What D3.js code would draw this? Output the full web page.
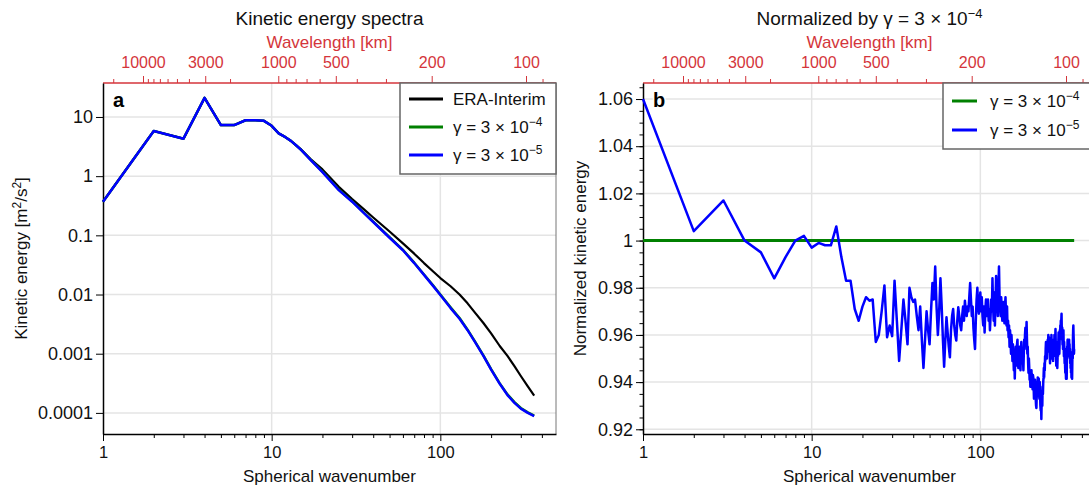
<!DOCTYPE html>
<html>
<head>
<meta charset="utf-8">
<script src="https://cdn.jsdelivr.net/npm/d3@7/dist/d3.min.js"></script>
<style>
  body { margin: 0; background: #fff; }
  svg { font-family: "Liberation Sans", Arial, Helvetica, sans-serif; }
</style>
</head>
<body>
<svg id="fig" width="1089" height="488"></svg>
<script>
// ---- data ----
// panel a: wavenumbers and kinetic energy [m2/s2]
var waveA = [1, 2, 3, 4, 5, 6, 7, 8, 9, 10, 11, 12, 13, 14, 15, 17, 20, 25, 30, 35, 40, 50, 60, 70, 80, 90,
  100, 115, 130, 145, 160, 180, 200, 225, 250, 275, 300, 330, 360];
var eraA = [0.37, 5.8, 4.3, 21, 7.3, 7.3, 8.8, 8.8, 8.6, 7.1, 5.3, 4.6, 3.95, 3.3, 2.8, 1.95, 1.3, 0.66, 0.41, 0.28,
  0.2, 0.116, 0.073, 0.049, 0.034, 0.025, 0.019, 0.0138, 0.0100, 0.0071, 0.0050, 0.0033, 0.0022, 0.00135,
  0.00092, 0.000615, 0.00042, 0.00028, 0.000195];
var gamma4A = [0.37, 5.8, 4.3, 21, 7.3, 7.3, 8.8, 8.8, 8.6, 7.1, 5.3, 4.6, 3.95, 3.3, 2.75, 1.9, 1.19, 0.59, 0.375,
  0.245, 0.17, 0.093, 0.057, 0.0345, 0.0218, 0.0146, 0.0100, 0.0061, 0.0040, 0.00255, 0.00163, 0.00094,
  0.00055, 0.000315, 0.000205, 0.000152, 0.000121, 0.000102, 0.00009];
var gamma5A = [0.37, 5.8, 4.3, 21, 7.3, 7.3, 8.8, 8.8, 8.6, 7.1, 5.3, 4.6, 3.95, 3.3, 2.75, 1.88, 1.17, 0.58, 0.37,
  0.242, 0.168, 0.091, 0.056, 0.034, 0.0215, 0.0143, 0.0098, 0.0059, 0.0039, 0.0025, 0.0016, 0.00092,
  0.00054, 0.00031, 0.0002, 0.000148, 0.000118, 0.0001, 0.000088];

// panel b: ratio gamma=3e-5 / gamma=3e-4, wavenumbers 1..360
var ratio5B = [
  1.060, 1.004, 1.017, 1.000, 0.995, 0.984, 0.993, 1.000, 1.002, 0.997,
  0.999, 0.998, 0.998, 1.006, 0.993, 0.983, 0.983, 0.971, 0.966, 0.972,
  0.976, 0.9745, 0.975, 0.957, 0.960, 0.970, 0.981, 0.959, 0.964, 0.9595,
  0.983, 0.966, 0.949, 0.962, 0.975, 0.966, 0.956, 0.980, 0.976, 0.974,
  0.975, 0.968, 0.962, 0.972, 0.958, 0.946, 0.958, 0.970, 0.962, 0.956,
  0.970, 0.982, 0.975, 0.989, 0.972, 0.960, 0.970, 0.984, 0.972, 0.958,
  0.9465, 0.958, 0.9675, 0.961, 0.955, 0.9505, 0.962, 0.968, 0.971, 0.964,
  0.960, 0.9576, 0.966, 0.9717, 0.968, 0.964, 0.962, 0.968, 0.972, 0.966,
  0.9745, 0.970, 0.968, 0.972, 0.970, 0.976, 0.982, 0.975, 0.968, 0.972,
  0.963, 0.958, 0.954, 0.966, 0.975, 0.980, 0.972, 0.969, 0.974, 0.978,
  0.970, 0.976, 0.968, 0.964, 0.972, 0.961, 0.970, 0.975, 0.968, 0.972,
  0.975, 0.966, 0.971, 0.962, 0.968, 0.975, 0.970, 0.984, 0.972, 0.966,
  0.978, 0.964, 0.974, 0.985, 0.970, 0.975, 0.968, 0.980, 0.989, 0.976,
  0.972, 0.968, 0.976, 0.970, 0.966, 0.969, 0.974, 0.970, 0.965, 0.972,
  0.976, 0.968, 0.964, 0.972, 0.962, 0.966, 0.959, 0.964, 0.955, 0.962,
  0.958, 0.952, 0.960, 0.955, 0.949, 0.956, 0.951, 0.945, 0.952, 0.9415,
  0.950, 0.955, 0.947, 0.952, 0.956, 0.958, 0.950, 0.946, 0.953, 0.949,
  0.955, 0.950, 0.945, 0.952, 0.957, 0.951, 0.948, 0.954, 0.950, 0.945,
  0.952, 0.958, 0.954, 0.960, 0.963, 0.957, 0.960, 0.9655, 0.958, 0.952,
  0.955, 0.948, 0.944, 0.950, 0.946, 0.941, 0.945, 0.938, 0.943, 0.940,
  0.945, 0.939, 0.942, 0.937, 0.943, 0.942, 0.938, 0.933, 0.940, 0.936,
  0.941, 0.937, 0.933, 0.930, 0.929, 0.935, 0.940, 0.936, 0.942, 0.938,
  0.934, 0.9415, 0.938, 0.933, 0.940, 0.936, 0.930, 0.928, 0.934, 0.9244,
  0.932, 0.936, 0.930, 0.938, 0.935, 0.940, 0.942, 0.946, 0.942, 0.948,
  0.945, 0.951, 0.949, 0.954, 0.957, 0.952, 0.955, 0.950, 0.956, 0.953,
  0.958, 0.954, 0.960, 0.955, 0.959, 0.953, 0.957, 0.952, 0.948, 0.955,
  0.951, 0.957, 0.954, 0.960, 0.955, 0.950, 0.956, 0.958, 0.953, 0.949,
  0.955, 0.951, 0.958, 0.954, 0.960, 0.955, 0.952, 0.958, 0.9625, 0.956,
  0.951, 0.947, 0.953, 0.957, 0.952, 0.946, 0.950, 0.955, 0.951, 0.957,
  0.961, 0.955, 0.958, 0.952, 0.956, 0.962, 0.958, 0.964, 0.960, 0.966,
  0.963, 0.966, 0.969, 0.962, 0.958, 0.963, 0.956, 0.960, 0.954, 0.959,
  0.962, 0.955, 0.951, 0.957, 0.953, 0.948, 0.954, 0.947, 0.944, 0.949,
  0.945, 0.9414, 0.946, 0.952, 0.9414, 0.950, 0.955, 0.951, 0.958, 0.954,
  0.958, 0.953, 0.956, 0.951, 0.955, 0.958, 0.952, 0.956, 0.950, 0.954,
  0.948, 0.952, 0.946, 0.950, 0.944, 0.949, 0.942, 0.947, 0.943, 0.9414,
  0.948, 0.953, 0.950, 0.958, 0.962, 0.964, 0.960, 0.957, 0.952, 0.954
];
var waveB = d3.range(1, ratio5B.length + 1);
var waveB4 = [1, 360];
var ratio4B = [1, 1];

// ticks
var waveTicks = [1, 10, 100];
var waveMinor = [2, 3, 4, 5, 6, 7, 8, 9, 20, 30, 40, 50, 60, 70, 80, 90, 200, 300, 400];
var kinTicks = [10, 1, 0.1, 0.01, 0.001, 0.0001];
var normTicks = [0.92, 0.94, 0.96, 0.98, 1, 1.02, 1.04, 1.06];
var normMinor = [0.92, 0.925, 0.93, 0.935, 0.94, 0.945, 0.95, 0.955, 0.96, 0.965, 0.97, 0.975, 0.98, 0.985,
  0.99, 0.995, 1, 1.005, 1.01, 1.015, 1.02, 1.025, 1.03, 1.035, 1.04, 1.045, 1.05, 1.055, 1.06, 1.065];
var lambdaTicks = [10000, 3000, 1000, 500, 200, 100];
var lambdaMinor = [20000, 9000, 8000, 7000, 6000, 5000, 4000, 2000, 900, 800, 700, 600, 400, 300, 90];

var red = "#d4353b";
var svg = d3.select("#fig");

var margin = { top: 83, left: 103 },
  width = 453,
  height = 351;

var x = d3.scaleLog().domain([1, 485]).range([0, width]);
// the top wavelength axis of the original is spaced by (log10 wavelength)^-0.75
var xTop = d3.scalePow().exponent(-0.75).domain([4, 2]).range([40, 423]);

function supText(sel, base, sup, supSize) {
  sel.append("tspan").text(base);
  sel.append("tspan").attr("dy", -7).attr("font-size", supSize).text(sup);
}

function drawPanel(cfg) {
  var g = svg.append("g")
    .attr("transform", "translate(" + (margin.left + cfg.dx) + "," + margin.top + ")");
  var y = cfg.y;

  // grid
  g.append("g").selectAll("line").data(waveTicks.slice(1)).enter().append("line")
    .attr("x1", function (d) { return x(d); }).attr("x2", function (d) { return x(d); })
    .attr("y1", 0).attr("y2", height)
    .attr("stroke", "#e4e4e4").attr("stroke-width", 1.5);
  g.append("g").selectAll("line").data(cfg.yTicks).enter().append("line")
    .attr("x1", 0).attr("x2", width)
    .attr("y1", function (d) { return y(d); }).attr("y2", function (d) { return y(d); })
    .attr("stroke", "#e4e4e4").attr("stroke-width", 1.5);

  // right frame
  g.append("line").attr("x1", width).attr("x2", width).attr("y1", 0).attr("y2", height)
    .attr("stroke", "#777").attr("stroke-width", 1);

  // top wavelength axis
  var topMinor = g.append("g")
    .call(d3.axisTop(xTop).tickValues(lambdaMinor.map(Math.log10).filter(function (d) {
      return xTop(d) >= 0 && xTop(d) <= width;
    })).tickSize(4).tickFormat(""));
  topMinor.select(".domain").remove();
  topMinor.selectAll("line").attr("stroke", red);
  var top = g.append("g")
    .call(d3.axisTop(xTop).tickValues(lambdaTicks.map(Math.log10)).tickSize(7).tickSizeOuter(0).tickPadding(8)
      .tickFormat(function (d) { return Math.round(Math.pow(10, d)); }))
    .attr("font-family", null).attr("font-size", 16);
  top.select(".domain").attr("stroke", red).attr("stroke-width", 1.5).attr("d", "M0,0H" + width);
  top.selectAll("line").attr("stroke", red);
  top.selectAll("text").attr("fill", red);

  // bottom axis
  var botMinor = g.append("g").attr("transform", "translate(0," + height + ")")
    .call(d3.axisBottom(x).tickValues(waveMinor).tickSize(4).tickFormat(""));
  botMinor.select(".domain").remove();
  var bot = g.append("g").attr("transform", "translate(0," + height + ")")
    .call(d3.axisBottom(x).tickValues(waveTicks).tickSize(7).tickSizeOuter(0).tickPadding(5)
      .tickFormat(d3.format("d")))
    .attr("font-family", null).attr("font-size", 16.5);
  bot.select(".domain").attr("stroke-width", 1.5);
  bot.selectAll("text").attr("fill", "#111");

  // left axis
  if (cfg.yMinor) {
    var leftMinor = g.append("g")
      .call(d3.axisLeft(y).tickValues(cfg.yMinor).tickSize(3.5).tickFormat(""));
    leftMinor.select(".domain").remove();
  }
  var left = g.append("g")
    .call(d3.axisLeft(y).tickValues(cfg.yTicks).tickSize(7).tickSizeOuter(0).tickPadding(3)
      .tickFormat(cfg.yFormat))
    .attr("font-family", null).attr("font-size", 18);
  left.select(".domain").attr("stroke-width", 1.5);
  left.selectAll("text").attr("fill", "#111");

  // series
  cfg.series.forEach(function (s) {
    var line = d3.line()
      .x(function (d, i) { return x(s.x[i]); })
      .y(function (d) { return y(d); });
    g.append("path").datum(s.v)
      .attr("d", line)
      .attr("fill", "none")
      .attr("stroke", s.color)
      .attr("stroke-width", s.w)
      .attr("stroke-linejoin", "round");
  });

  // panel letter
  g.append("text").attr("x", 10).attr("y", 24)
    .attr("font-size", 20).attr("font-weight", "bold")
    .attr("stroke", "#fff").attr("stroke-width", 3).attr("paint-order", "stroke")
    .text(cfg.letter);

  // legend
  var lg = g.append("g").attr("transform", "translate(" + (width - cfg.legendW) + ",0)");
  lg.append("rect").attr("width", cfg.legendW).attr("height", cfg.legendH)
    .attr("fill", "#fff").attr("stroke", "#666").attr("stroke-width", 1.5);
  cfg.legend.forEach(function (e, i) {
    var yy = cfg.legendY0 + i * cfg.legendDy;
    lg.append("line").attr("x1", 9).attr("x2", 9 + cfg.legendLine)
      .attr("y1", yy).attr("y2", yy)
      .attr("stroke", e.color).attr("stroke-width", 3);
    var t = lg.append("text").attr("x", cfg.legendText).attr("y", yy + 6)
      .attr("font-size", 17).attr("fill", "#111");
    if (e.sup) supText(t, e.label, e.sup, 12);
    else t.text(e.label);
  });

  // titles
  var title = g.append("text").attr("x", width / 2).attr("y", 25 - margin.top)
    .attr("text-anchor", "middle").attr("font-size", 19).attr("fill", "#111");
  if (cfg.titleSup) supText(title, cfg.title, cfg.titleSup, 13);
  else title.text(cfg.title);

  g.append("text").attr("x", width / 2).attr("y", 48 - margin.top)
    .attr("text-anchor", "middle").attr("font-size", 17).attr("fill", red)
    .text("Wavelength [km]");

  g.append("text").attr("x", width / 2).attr("y", height + 48)
    .attr("text-anchor", "middle").attr("font-size", 17).attr("fill", "#111")
    .text("Spherical wavenumber");

  var yl = g.append("text").attr("transform", "rotate(-90)")
    .attr("x", -height / 2).attr("y", cfg.yLabelX)
    .attr("text-anchor", "middle").attr("font-size", 17).attr("fill", "#111");
  cfg.yLabel(yl);
}

var yA = d3.scaleLog().domain([4.4e-5, 37.5]).range([height, 0]);
var yB = d3.scaleLinear().domain([0.918, 1.0668]).range([height, 0]);

drawPanel({
  dx: 0,
  y: yA,
  yTicks: kinTicks,
  yFormat: function (d) { return d >= 1 ? d3.format("d")(d) : d3.format("." + Math.round(-Math.log10(d)) + "f")(d); },
  series: [
    { x: waveA, v: eraA, color: "#000", w: 2.2 },
    { x: waveA, v: gamma4A, color: "#008000", w: 2.5 },
    { x: waveA, v: gamma5A, color: "#0000ff", w: 2.5 }
  ],
  letter: "a",
  legendW: 156, legendH: 91, legendY0: 16, legendDy: 28, legendLine: 34, legendText: 53,
  legend: [
    { label: "ERA-Interim", color: "#000" },
    { label: "\u03b3 = 3 \u00d7 10", sup: "\u22124", color: "#008000" },
    { label: "\u03b3 = 3 \u00d7 10", sup: "\u22125", color: "#0000ff" }
  ],
  title: "Kinetic energy spectra",
  yLabelX: -76,
  yLabel: function (t) {
    t.append("tspan").text("Kinetic energy [m");
    t.append("tspan").attr("dy", -6).attr("font-size", 12).text("2");
    t.append("tspan").attr("dy", 6).text("/s");
    t.append("tspan").attr("dy", -6).attr("font-size", 12).text("2");
    t.append("tspan").attr("dy", 6).text("]");
  }
});

drawPanel({
  dx: 540,
  y: yB,
  yTicks: normTicks,
  yMinor: normMinor,
  yFormat: d3.format("~g"),
  series: [
    { x: waveB4, v: ratio4B, color: "#008000", w: 3 },
    { x: waveB, v: ratio5B, color: "#0000ff", w: 2.5 }
  ],
  letter: "b",
  legendW: 153, legendH: 66, legendY0: 18, legendDy: 29, legendLine: 25, legendText: 47,
  legend: [
    { label: "\u03b3 = 3 \u00d7 10", sup: "\u22124", color: "#008000" },
    { label: "\u03b3 = 3 \u00d7 10", sup: "\u22125", color: "#0000ff" }
  ],
  title: "Normalized by \u03b3 = 3 \u00d7 10",
  titleSup: "\u22124",
  yLabelX: -57,
  yLabel: function (t) { t.text("Normalized kinetic energy"); }
});
</script>
</body>
</html>
